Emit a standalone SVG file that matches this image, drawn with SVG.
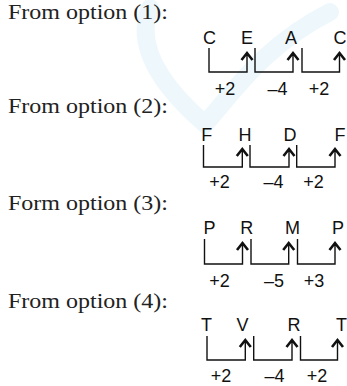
<svg xmlns="http://www.w3.org/2000/svg" width="347" height="386" viewBox="0 0 347 386">
<style>
.h{font-family:"Liberation Serif",serif;font-size:21.5px;fill:#222}
.l{font-family:"Liberation Sans",Arial,sans-serif;font-size:18px;fill:#111;text-anchor:middle}
.b{fill:none;stroke:#111;stroke-width:1.4}
.a{fill:none;stroke:#111;stroke-width:2.6;stroke-linejoin:miter}
.w{fill:none;stroke:#e3f4fa;stroke-width:18;stroke-linecap:round;opacity:0.6}
</style>
<rect width="347" height="386" fill="#fff"/>
<g id="watermark">
<path class="w" d="M150,8 C135,45 160,85 205,124 C235,90 265,45 330,12"/>
</g>
<g id="block1">
<text class="h" x="8" y="19" textLength="160" lengthAdjust="spacingAndGlyphs">From option (1):</text>
<text class="l" x="209.5" y="43.5">C</text><text class="l" x="247" y="43.5">E</text><text class="l" x="291" y="43.5">A</text><text class="l" x="340" y="43.5">C</text>
<text class="l" x="225" y="95">+2</text><text class="l" x="277.5" y="95">–4</text><text class="l" x="319" y="95">+2</text>
</g>
<g id="block2">
<text class="h" x="8" y="113" textLength="160" lengthAdjust="spacingAndGlyphs">From option (2):</text>
<text class="l" x="206.7" y="141">F</text><text class="l" x="245" y="141">H</text><text class="l" x="290" y="141">D</text><text class="l" x="340" y="141">F</text>
<text class="l" x="219.5" y="188">+2</text><text class="l" x="273.5" y="188">–4</text><text class="l" x="313.5" y="188">+2</text>
</g>
<g id="block3">
<text class="h" x="8" y="210" textLength="160" lengthAdjust="spacingAndGlyphs">Form option (3):</text>
<text class="l" x="209.5" y="234">P</text><text class="l" x="246.7" y="234">R</text><text class="l" x="292.5" y="234">M</text><text class="l" x="338" y="234">P</text>
<text class="l" x="219.5" y="287">+2</text><text class="l" x="274" y="287">–5</text><text class="l" x="314" y="287">+3</text>
</g>
<g id="block4">
<text class="h" x="8" y="308" textLength="160" lengthAdjust="spacingAndGlyphs">From option (4):</text>
<text class="l" x="206.5" y="331">T</text><text class="l" x="242.5" y="331">V</text><text class="l" x="294" y="331">R</text><text class="l" x="341.5" y="331">T</text>
<text class="l" x="221" y="382">+2</text><text class="l" x="274.5" y="382">–4</text><text class="l" x="317" y="382">+2</text>
</g>
<g id="connectors">
<polyline class="b" points="209,48 209,72 247,72 247,53"/>
<polyline class="b" points="255,48 255,72 293,72 293,53"/>
<polyline class="b" points="302,48 302,72 339.5,72 339.5,53"/>
<path class="a" d="M241.5,60 L247,53 L252.5,60 M287.5,60 L293,53 L298.5,60 M334,60 L339.5,53 L345,60"/>
<polyline class="b" points="203.5,145 203.5,167 242.3,167 242.3,149"/>
<polyline class="b" points="250,145 250,167 289,167 289,149"/>
<polyline class="b" points="296.7,145 296.7,167 335,167 335,149"/>
<path class="a" d="M236.8,156 L242.3,149 L247.8,156 M283.5,156 L289,149 L294.5,156 M329.5,156 L335,149 L340.5,156"/>
<polyline class="b" points="204.5,239 204.5,264 242.5,264 242.5,243"/>
<polyline class="b" points="251,239 251,264 288.7,264 288.7,243"/>
<polyline class="b" points="297.5,239 297.5,264 335,264 335,243"/>
<path class="a" d="M237,250 L242.5,243 L248,250 M283.2,250 L288.7,243 L294.2,250 M329.5,250 L335,243 L340.5,250"/>
<polyline class="b" points="207,336 207,360 245.3,360 245.3,340"/>
<polyline class="b" points="253.7,336 253.7,360 292,360 292,340"/>
<polyline class="b" points="300.5,336 300.5,360 337.5,360 337.5,340"/>
<path class="a" d="M239.8,347 L245.3,340 L250.8,347 M286.5,347 L292,340 L297.5,347 M332,347 L337.5,340 L343,347"/>
</g>
</svg>
